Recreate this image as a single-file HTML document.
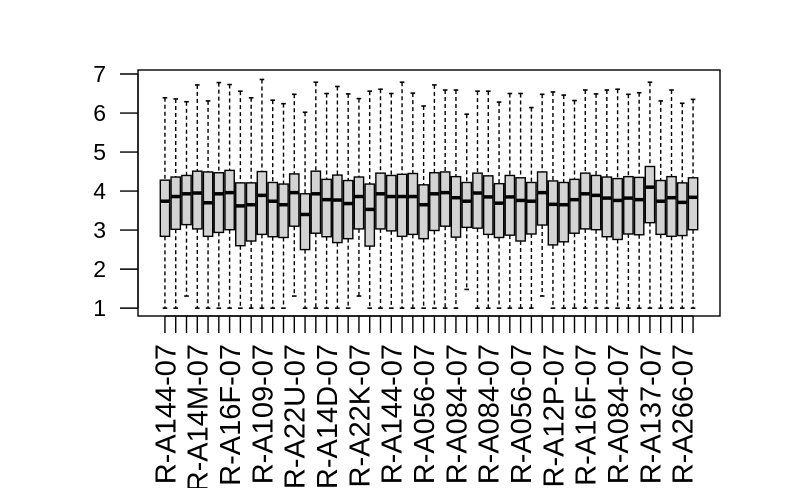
<!DOCTYPE html>
<html><head><meta charset="utf-8"><style>
html,body{margin:0;padding:0;background:#fff;}
svg{display:block;font-family:"Liberation Sans",sans-serif;}
</style></head><body>
<svg id="chart" width="791" height="488" viewBox="0 0 791 488">
<rect x="138" y="70" width="582" height="246" fill="none" stroke="#000" stroke-width="1.4"/>
<g id="yaxis"></g>
<g id="xaxis"></g>
<g id="boxes"></g>
</svg>
<script>
const whiskerHigh=[6.39,6.36,6.29,6.72,6.31,6.78,6.73,6.56,6.39,6.86,6.33,6.24,6.48,6.02,6.79,6.50,6.68,6.49,6.37,6.56,6.61,6.50,6.79,6.51,6.18,6.72,6.59,6.59,5.97,6.56,6.56,6.28,6.50,6.50,6.14,6.48,6.54,6.46,6.32,6.59,6.49,6.59,6.61,6.48,6.52,6.79,6.31,6.59,6.25,6.35];
const q3=[4.28,4.36,4.40,4.51,4.49,4.47,4.53,4.21,4.21,4.50,4.22,4.18,4.44,3.93,4.51,4.30,4.41,4.27,4.36,4.18,4.46,4.40,4.43,4.45,4.16,4.47,4.49,4.37,4.22,4.46,4.39,4.19,4.40,4.34,4.22,4.49,4.26,4.22,4.30,4.46,4.40,4.36,4.32,4.37,4.35,4.63,4.27,4.37,4.21,4.34];
const medians=[3.74,3.86,3.93,3.95,3.70,3.93,3.96,3.62,3.65,3.89,3.74,3.65,3.96,3.40,3.93,3.78,3.77,3.68,3.86,3.53,3.93,3.86,3.86,3.86,3.65,3.93,3.96,3.83,3.74,3.95,3.85,3.69,3.85,3.76,3.74,3.96,3.66,3.65,3.78,3.93,3.89,3.82,3.76,3.82,3.78,4.10,3.74,3.83,3.71,3.84];
const q1=[2.84,3.02,3.14,3.03,2.84,2.94,3.01,2.60,2.72,2.89,2.83,2.81,3.10,2.50,2.92,2.83,2.68,2.78,3.03,2.59,3.03,2.98,2.84,2.89,2.78,2.99,3.10,2.82,3.07,3.05,2.89,2.81,2.87,2.72,2.90,3.13,2.62,2.70,2.92,3.03,3.01,2.83,2.76,2.90,2.88,3.19,2.89,2.84,2.86,3.01];
const whiskerLow=[1,1,1.31,1,1,1,1,1,1,1,1,1,1.31,1,1,1,1,1,1.31,1,1,1,1,1,1,1,1,1,1.48,1,1,1,1,1,1,1.31,1,1,1,1,1,1,1,1,1,1,1,1,1,1];
const yTicks=[1,2,3,4,5,6,7];
const xLabels=["R-A144-07","R-A14M-07","R-A16F-07","R-A109-07","R-A22U-07","R-A14D-07","R-A22K-07","R-A144-07","R-A056-07","R-A084-07","R-A084-07","R-A056-07","R-A12P-07","R-A16F-07","R-A084-07","R-A137-07","R-A266-07"];

const NS="http://www.w3.org/2000/svg";
const n=medians.length;
const X0=138,X1=720,Y0=70,Y1=316;
const xmin=0.5-0.04*n, xmax=n+0.5+0.04*n;
const ymin=0.7985, ymax=7.1026;
const sx=v=>X0+(v-xmin)/(xmax-xmin)*(X1-X0);
const sy=v=>Y1-(v-ymin)/(ymax-ymin)*(Y1-Y0);
function mk(tag,attrs,parent){const e=document.createElementNS(NS,tag);for(const k in attrs)e.setAttribute(k,attrs[k]);parent.appendChild(e);return e;}

const ya=document.getElementById('yaxis');
mk('line',{x1:138,x2:138,y1:sy(1),y2:sy(7),stroke:'#000','stroke-width':1.4},ya);
yTicks.forEach(t=>{
  const l=mk('line',{x1:120,x2:138,y1:sy(t),y2:sy(t),stroke:'#000','stroke-width':1.4},ya);
  
  
  const tx=mk('text',{x:106,y:sy(t)+8,'text-anchor':'end','font-size':23},ya);
  tx.textContent=t;
  
  
});

const xa=document.getElementById('xaxis');
mk('line',{x1:sx(1),x2:sx(n),y1:316,y2:316,stroke:'#000','stroke-width':1.4},xa);
for(let i=1;i<=n;i++){
  const l=mk('line',{x1:sx(i),x2:sx(i),y1:316,y2:333,stroke:'#000','stroke-width':1.4},xa);
  
  
}
xLabels.forEach((lab,j)=>{
  const i=1+j*3;
  const x=sx(i), y=344;
  const tx=mk('text',{x:x,y:y,'text-anchor':'end','font-size':29,dy:'0.36em',transform:`rotate(-90 ${x} ${y})`},xa);
  tx.textContent=lab;
  
  
});

const bx=document.getElementById('boxes');
const bw=9.3, cw=4.6;
for(let i=0;i<n;i++){
  const g=mk('g',{},bx);
  
  
  const x=sx(i+1);
  mk('line',{x1:x,x2:x,y1:sy(whiskerHigh[i]),y2:sy(q3[i]),stroke:'#000','stroke-width':1.4,'stroke-dasharray':'4 3'},g);
  mk('line',{x1:x,x2:x,y1:sy(q1[i]),y2:sy(whiskerLow[i]),stroke:'#000','stroke-width':1.4,'stroke-dasharray':'4 3'},g);
  mk('line',{x1:x-cw/2,x2:x+cw/2,y1:sy(whiskerHigh[i]),y2:sy(whiskerHigh[i]),stroke:'#000','stroke-width':1.6},g);
  mk('line',{x1:x-cw/2,x2:x+cw/2,y1:sy(whiskerLow[i]),y2:sy(whiskerLow[i]),stroke:'#000','stroke-width':1.6},g);
  mk('rect',{x:x-bw/2,y:sy(q3[i]),width:bw,height:sy(q1[i])-sy(q3[i]),fill:'#d3d3d3',stroke:'#000','stroke-width':1.4},g);
  mk('line',{x1:x-bw/2,x2:x+bw/2,y1:sy(medians[i]),y2:sy(medians[i]),stroke:'#000','stroke-width':3.5},g);
}
</script>
</body></html>
